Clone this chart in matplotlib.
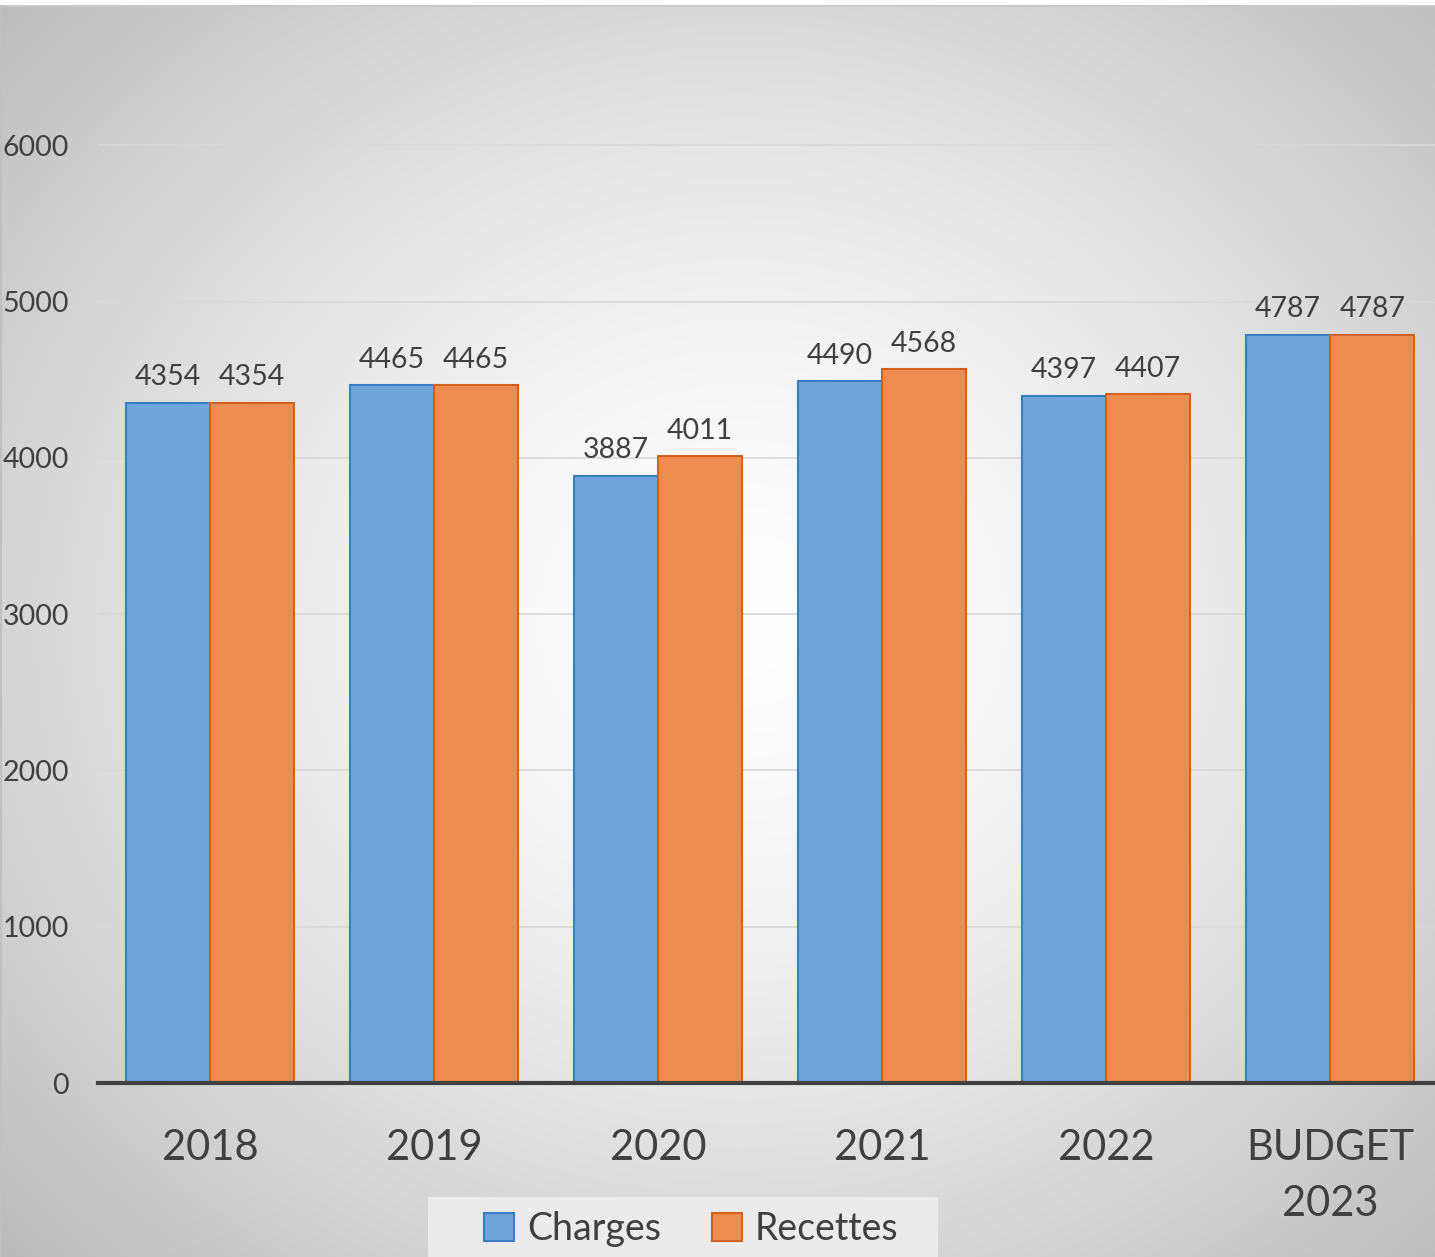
import numpy as np
import matplotlib
matplotlib.use("Agg")
import matplotlib.pyplot as plt
from matplotlib.patches import Patch, Rectangle

categories = ["2018", "2019", "2020", "2021", "2022", "BUDGET\n2023"]
charges = [4354, 4465, 3887, 4490, 4397, 4787]
recettes = [4354, 4465, 4011, 4568, 4407, 4787]
series_names = ["Charges", "Recettes"]
yticks = [0, 1000, 2000, 3000, 4000, 5000, 6000]

plt.rcParams['font.family'] = ['Lato', 'DejaVu Sans']
W, H = 1435, 1257
fig = plt.figure(figsize=(W / 100, H / 100), dpi=100, facecolor='white')

# background radial gradient
bg = fig.add_axes([0, 0, 1, 1], zorder=-2)
yy, xx = np.mgrid[0:H, 0:W]
cx, cy = 740, 620
d = np.sqrt(((xx - cx) / 900.0) ** 2 + ((yy - cy) / 800.0) ** 2)
val = 1.0 - 0.22 * np.clip(d, 0, 1.3) ** 1.5
val = np.clip(val, 0, 1)
img = np.dstack([val, val, val])
img[:6, :, :] = 1.0
bg.imshow(img, aspect='auto', extent=(0, W, H, 0), interpolation='bilinear')
bg.plot([0, W], [6, 6], color='#C8C8C8', lw=1.5)
bg.plot([1, 1], [6, H], color='#C0C0C0', lw=1.5)
# legend background panel
bg.add_patch(Rectangle((428, 1197), 510, 70, facecolor='#EBEBEB', edgecolor='none', zorder=2))
bg.set_xlim(0, W)
bg.set_ylim(H, 0)
bg.axis('off')

ax = fig.add_axes([98 / W, 174 / H, 1344 / W, 1094 / H])
ax.set_facecolor('none')
x = np.arange(len(categories))
bw = 0.377
b1 = ax.bar(x - bw / 2, charges, bw, color='#6FA6DA', edgecolor='#3A7CC0', linewidth=1.5, zorder=3)
b2 = ax.bar(x + bw / 2, recettes, bw, color='#EE8D4F', edgecolor='#CF621C', linewidth=1.5, zorder=3)
ax.bar_label(b1, padding=9, fontsize=20.5, color='#404040')
ax.bar_label(b2, padding=9, fontsize=20.5, color='#404040')

ax.set_xlim(-0.5, len(categories) - 0.5)
ax.set_ylim(0, 7000)
ax.set_yticks(yticks)
ax.set_yticklabels([str(v) for v in yticks], fontsize=20.5, color='#404040')
ax.set_xticks(x)
ax.set_xticklabels(categories, fontsize=30, color='#404040', linespacing=1.6)
ax.tick_params(axis='y', length=0, pad=21)
ax.tick_params(axis='x', length=0, pad=33)
for s in ['top', 'right', 'left']:
    ax.spines[s].set_visible(False)
ax.spines['bottom'].set_color('#404040')
ax.spines['bottom'].set_linewidth(3)
ax.spines['bottom'].set_zorder(4)
ax.yaxis.grid(True, color='#D9D9D9', linewidth=1.2, zorder=0)
ax.set_axisbelow(True)

handles = [Patch(facecolor='#6FA6DA', edgecolor='#3A7CC0', linewidth=1.5),
           Patch(facecolor='#EE8D4F', edgecolor='#CF621C', linewidth=1.5)]
leg = fig.legend(handles, series_names, loc='center', bbox_to_anchor=(691 / W, (H - 1229) / H),
                 ncol=2, fontsize=27, frameon=False,
                 handlelength=0.8, handleheight=0.8, handletextpad=0.35,
                 columnspacing=1.35, borderpad=0, borderaxespad=0,
                 labelcolor='#404040')

fig.savefig('out.png', dpi=100, facecolor='white')
